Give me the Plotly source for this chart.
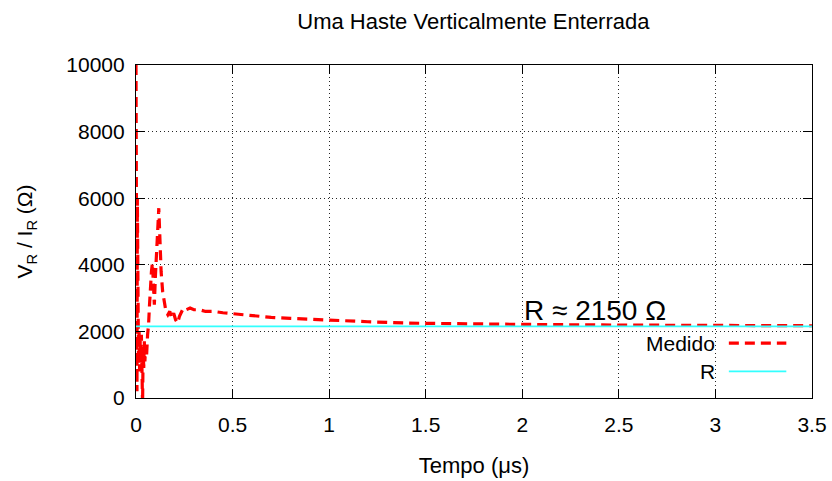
import plotly.graph_objects as go

# ---- data ----
tempo_us = [0.000, 0.003, 0.005, 0.007, 0.010, 0.013, 0.016, 0.019, 0.022, 0.025,
            0.028, 0.031, 0.034, 0.037, 0.040, 0.043, 0.046, 0.050, 0.055, 0.060,
            0.065, 0.070, 0.075, 0.080, 0.085, 0.090, 0.095, 0.100, 0.105, 0.110,
            0.118, 0.125, 0.130, 0.138, 0.145, 0.155, 0.165, 0.175, 0.185, 0.195,
            0.205, 0.215, 0.225, 0.235, 0.245, 0.260, 0.280, 0.300, 0.330, 0.360,
            0.400, 0.450, 0.500, 0.600, 0.700, 0.800, 0.900, 1.000, 1.200, 1.400,
            1.600, 1.800, 2.000, 2.500, 3.000, 3.500]
medido = [10000, 5000, 200, 6000, 2500, 1000, 2000, 800, 1800, 1200,
          1900, 300, -200, 1500, 900, 1700, 1100, 1600, 1300, 1900,
          2200, 2800, 3400, 3800, 4050, 3300, 2800, 3600, 4300, 5000,
          5700, 4600, 3800, 3200, 2900, 2600, 2500, 2600, 2400, 2550,
          2350, 2250, 2450, 2600, 2700, 2650, 2700, 2650, 2650, 2600,
          2600, 2560, 2530, 2470, 2420, 2390, 2360, 2340, 2290, 2250,
          2230, 2215, 2210, 2190, 2180, 2170]
r_tempo = [0.0, 3.5]
r_valor = [2150, 2150]
x_ticks = [0, 0.5, 1, 1.5, 2, 2.5, 3, 3.5]
x_labels = ["0", "0.5", "1", "1.5", "2", "2.5", "3", "3.5"]
y_ticks = [0, 2000, 4000, 6000, 8000, 10000]
y_labels = ["0", "2000", "4000", "6000", "8000", "10000"]

FONT = "Liberation Sans, Arial, sans-serif"
RED = "#ff0000"
CYAN = "#33ffff"
RED_DASH = "10px,6px"

fig = go.Figure()
fig.add_trace(go.Scatter(x=tempo_us, y=medido, mode="lines", name="Medido",
                         line=dict(color=RED, width=3.2, dash=RED_DASH),
                         showlegend=False))
fig.add_trace(go.Scatter(x=r_tempo, y=r_valor, mode="lines", name="R",
                         line=dict(color=CYAN, width=1.6), showlegend=False))

axis_common = dict(showline=True, linecolor="black", linewidth=1.2, mirror="ticks",
                   ticks="inside", ticklen=9, tickcolor="black", tickwidth=1,
                   showgrid=True, gridcolor="rgba(0,0,0,0.85)", griddash="1px,3px",
                   gridwidth=1.2, zeroline=False, automargin=False,
                   tickfont=dict(family=FONT, size=21, color="black"))

fig.update_xaxes(range=[0, 3.5], tickvals=x_ticks, ticktext=x_labels,
                 ticklabelstandoff=8,
                 title=dict(text="Tempo (μs)", font=dict(family=FONT, size=22, color="black"),
                            standoff=22),
                 **axis_common)
fig.update_yaxes(range=[0, 10000], tickvals=y_ticks, ticktext=y_labels,
                 ticklabelstandoff=6,
                 title=dict(text="V<sub>R</sub> / I<sub>R</sub> (Ω)",
                            font=dict(family=FONT, size=21, color="black"), standoff=27),
                 **axis_common)

# annotation
fig.add_annotation(x=2.0, y=2640, xref="x", yref="y", text="R ≈ 2150 Ω",
                   showarrow=False, xanchor="left", yanchor="middle",
                   font=dict(family=FONT, size=28, color="black"))

# manual legend (text left of sample, gnuplot style)
legend_rows = [("Medido", RED, 3.2, RED_DASH, 0.165), ("R", CYAN, 1.6, "solid", 0.08)]
for label, col, w, dash, yp in legend_rows:
    fig.add_annotation(x=0.859, y=yp, xref="paper", yref="paper", text=label,
                       showarrow=False, xanchor="right", yanchor="middle",
                       font=dict(family=FONT, size=21, color="black"))
    fig.add_shape(type="line", xref="paper", yref="paper", x0=0.877, x1=0.962,
                  y0=yp, y1=yp, line=dict(color=col, width=w, dash=dash))

fig.update_layout(
    width=832, height=481,
    margin=dict(l=136, r=20, t=65, b=83),
    paper_bgcolor="white", plot_bgcolor="white",
    title=dict(text="Uma Haste Verticalmente Enterrada", x=0.569, xanchor="center",
               y=0.955, yanchor="middle",
               font=dict(family=FONT, size=22, color="black")),
    showlegend=False,
)

fig.write_html("out.html", config={"displayModeBar": False},
               post_script="document.body.style.margin='0';document.body.style.padding='0';")
